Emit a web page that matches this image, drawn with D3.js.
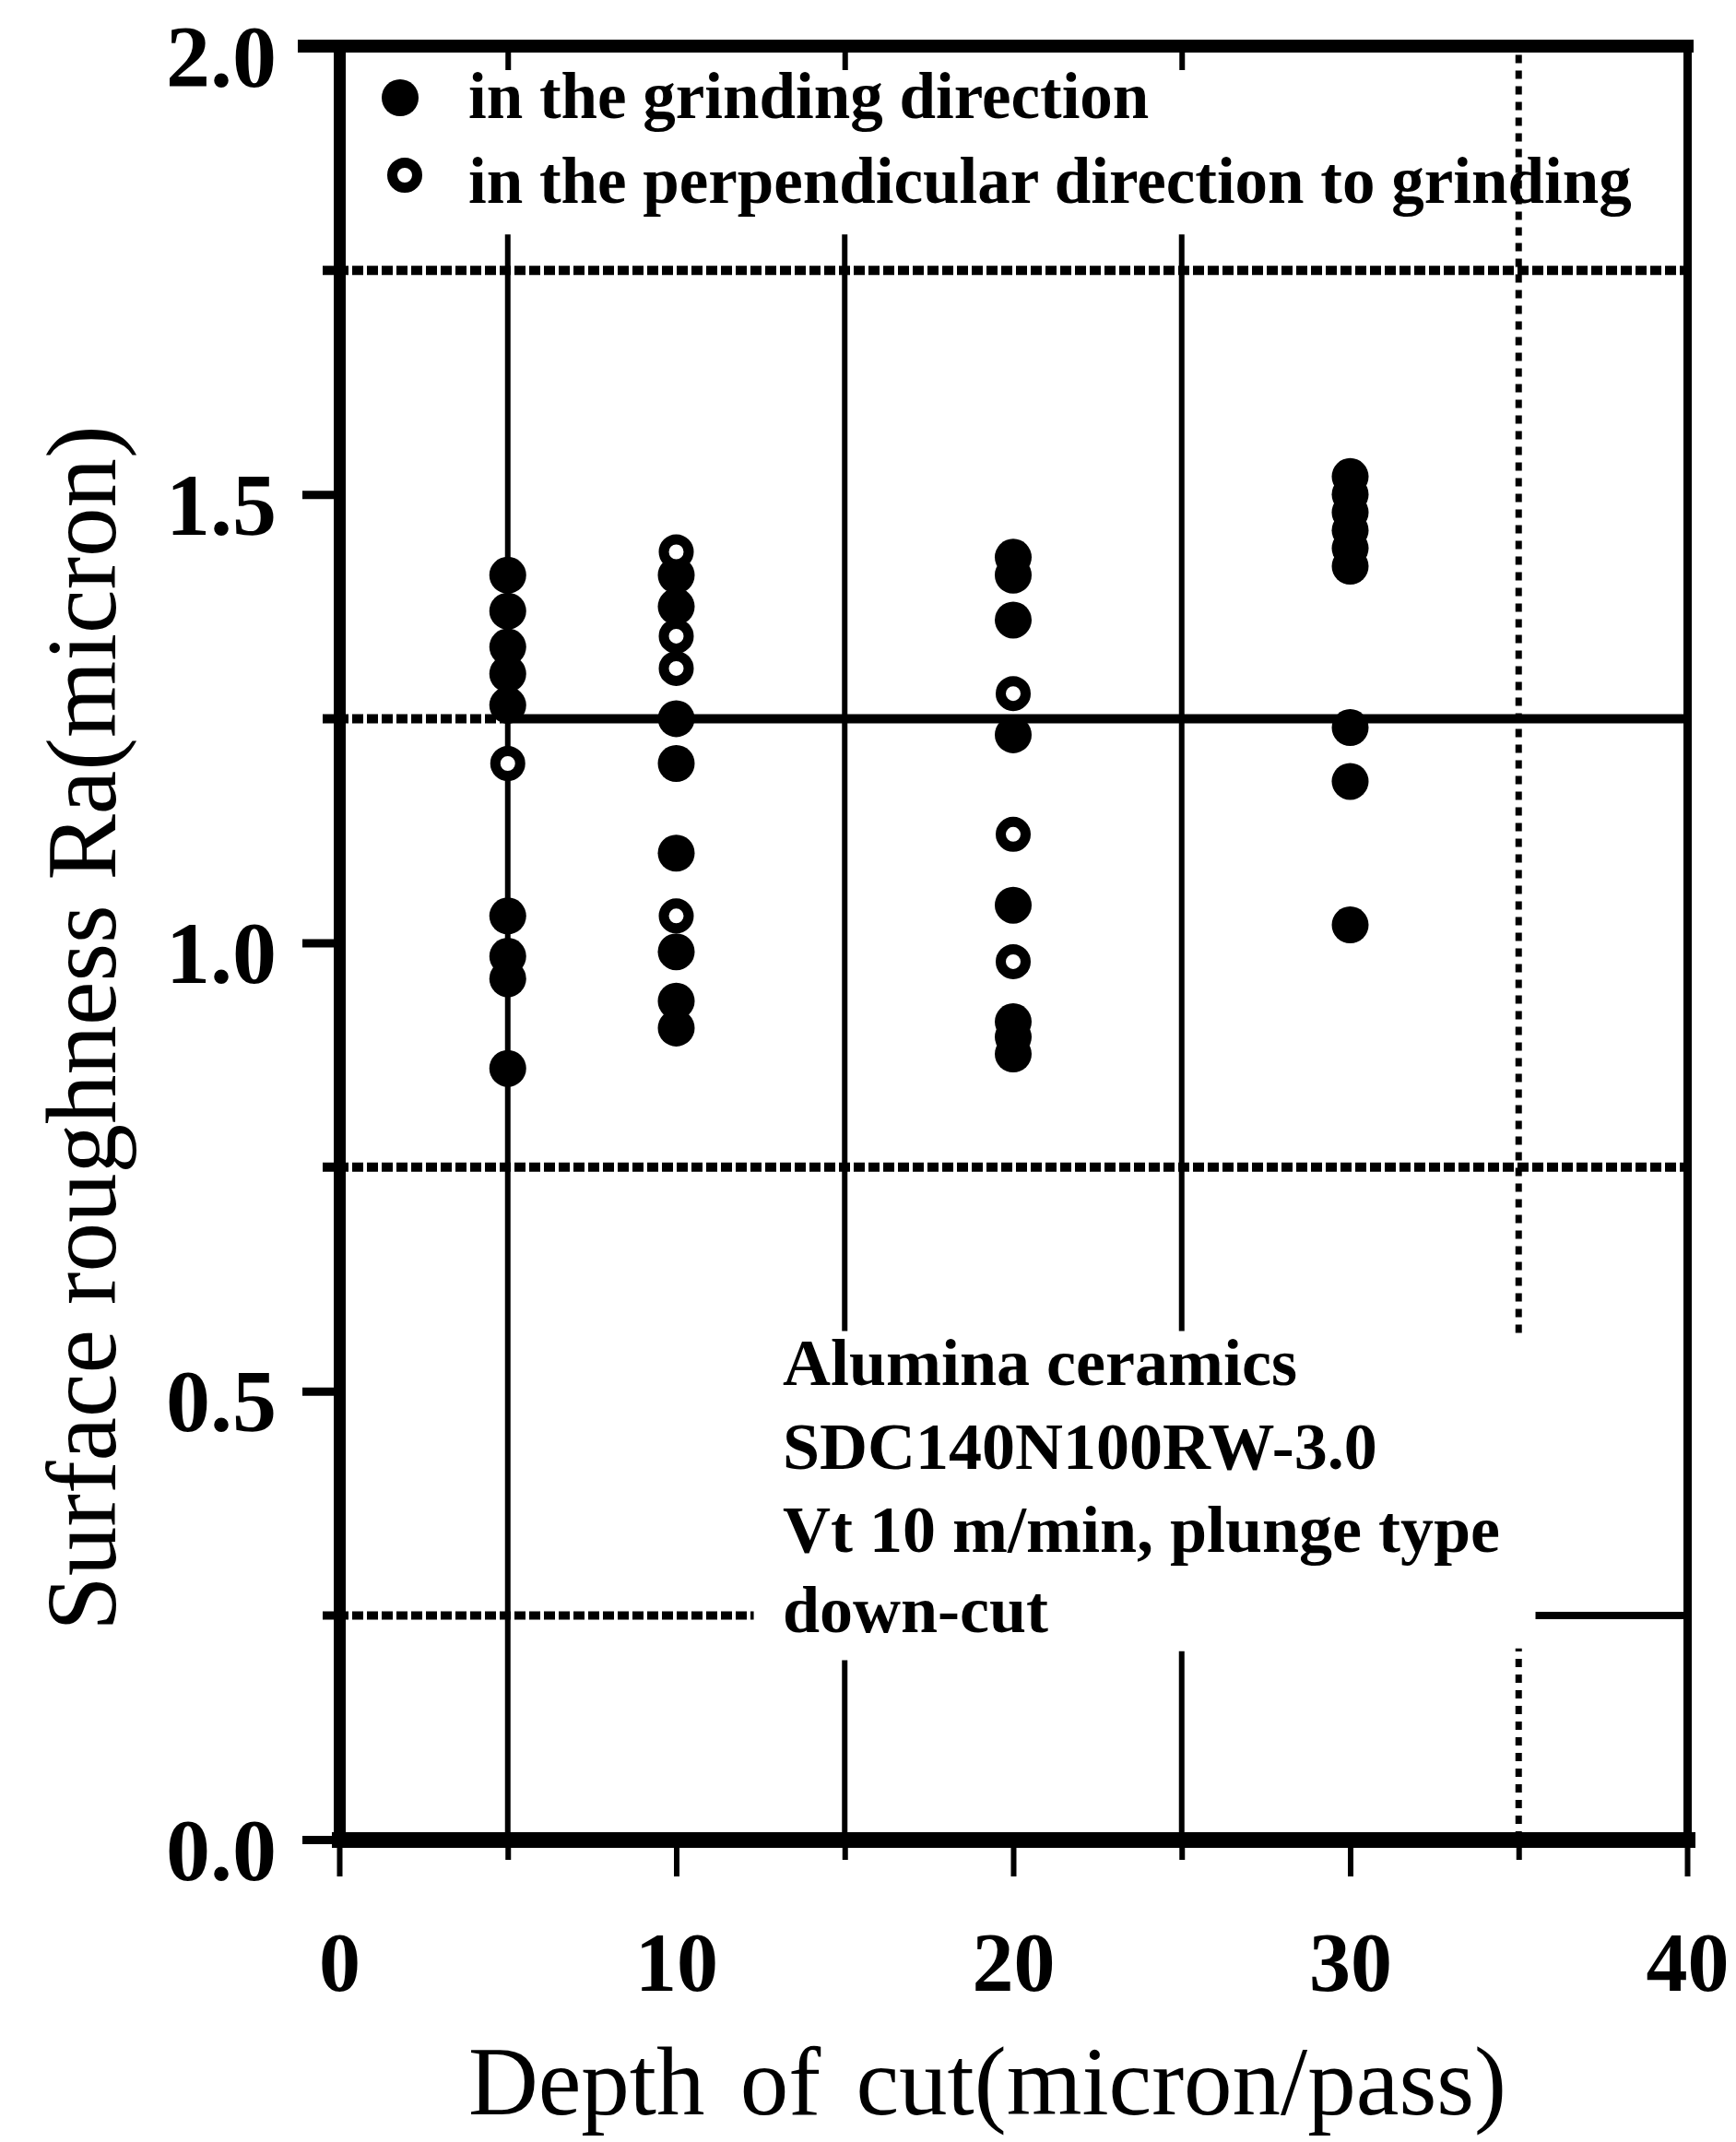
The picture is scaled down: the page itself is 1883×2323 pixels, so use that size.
<!DOCTYPE html>
<html lang="en">
<head>
<meta charset="UTF-8">
<title>Surface roughness vs depth of cut</title>
<script src="https://d3js.org/d3.v7.min.js"></script>
<style>
  body { margin: 0; background: #fff; }
  svg { display: block; }
</style>
</head>
<body>
<script>
const width = 1883
const height = 2323

// values (Ra in micron, one list per depth of cut)
const depths = [5, 10, 20, 30]
const raGrinding = [
  [1.41, 1.37, 1.33, 1.30, 1.265, 1.03, 0.985, 0.96, 0.86],
  [1.41, 1.375, 1.25, 1.20, 1.10, 0.99, 0.935, 0.905],
  [1.43, 1.41, 1.36, 1.232, 1.042, 0.912, 0.895, 0.876],
  [1.52, 1.50, 1.48, 1.46, 1.44, 1.42, 1.24, 1.18, 1.02]
]
const raPerpendicular = [
  [1.20],
  [1.436, 1.342, 1.306, 1.03],
  [1.278, 1.121, 0.979],
  []
]
const xTicks = [0, 10, 20, 30, 40]
const xMinorTicks = [5, 15, 25, 35]
const yTicks = [0, 0.5, 1.0, 1.5, 2.0]
const legendLabels = ["in the grinding direction", "in the perpendicular direction to grinding"]
const noteLines = ["Alumina ceramics", "SDC140N100RW-3.0", "Vt 10 m/min, plunge type", "down-cut"]

const serif = "'Liberation Serif', 'Times New Roman', Times, serif"

const x = d3.scaleLinear().domain([0, 40]).range([368, 1830])
const y = d3.scaleLinear().domain([0, 2]).range([1995, 50])

const svg = d3.select("body")
  .append("svg")
  .attr("width", width)
  .attr("height", height)

svg.append("rect").attr("width", width).attr("height", height).attr("fill", "#fff")

// grid lines (gaps left where the legend / note text sit)
const hGrid = [
  { v: 1.75, a: 0, b: 40, dash: "12,4", w: 10 },
  { v: 1.25, a: 0, b: 5, dash: "12,4", w: 10 },
  { v: 1.25, a: 5, b: 40, dash: null, w: 10 },
  { v: 0.75, a: 0, b: 40, dash: "12,4", w: 10 },
  { v: 0.25, a: 0, b: 12.3, dash: "12,4", w: 9 },
  { v: 0.25, a: 35.5, b: 40, dash: null, w: 8 }
]
const vGrid = [
  { v: 5, a: 0, b: 1.79, dash: null, w: 6 },
  { v: 15, a: 0.567, b: 1.79, dash: null, w: 6 },
  { v: 15, a: 0, b: 0.20, dash: null, w: 6 },
  { v: 25, a: 0.567, b: 1.79, dash: null, w: 6 },
  { v: 25, a: 0, b: 0.21, dash: null, w: 6 },
  { v: 35, a: 0.565, b: 2, dash: "9,8", w: 7 },
  { v: 35, a: 0, b: 0.213, dash: "9,8", w: 7 }
]

const grid = svg.append("g").attr("stroke", "#000")
grid.selectAll("line.h")
  .data(hGrid)
  .enter()
  .append("line")
  .attr("class", "h")
  .attr("x1", d => x(d.a) - (d.a === 0 ? 18 : 0))
  .attr("x2", d => x(d.b))
  .attr("y1", d => y(d.v))
  .attr("y2", d => y(d.v))
  .attr("stroke-width", d => d.w)
  .attr("stroke-dasharray", d => d.dash)

grid.selectAll("line.v")
  .data(vGrid)
  .enter()
  .append("line")
  .attr("class", "v")
  .attr("x1", d => x(d.v))
  .attr("x2", d => x(d.v))
  .attr("y1", d => y(d.a))
  .attr("y2", d => y(d.b))
  .attr("stroke-width", d => d.w)
  .attr("stroke-dasharray", d => d.dash)

// axes
function styleAxis(g, lineW, tickW) {
  g.select(".domain").attr("stroke-width", lineW).attr("stroke-linecap", "square")
  g.selectAll(".tick line").attr("stroke-width", tickW)
}

const yAxis = svg.append("g")
  .attr("transform", `translate(${x(0)},0)`)
  .call(d3.axisLeft(y).tickValues(yTicks).tickSize(40).tickSizeOuter(0).tickPadding(28)
    .tickFormat(d3.format(".1f")))
styleAxis(yAxis, 13, 9)
yAxis.selectAll("text")
  .attr("font-family", serif).attr("font-weight", "bold").attr("font-size", 96)
  .attr("fill", "#000").attr("dy", "0.45em")

const xAxis = svg.append("g")
  .attr("transform", `translate(0,${y(0)})`)
  .call(d3.axisBottom(x).tickValues(xTicks).tickSize(40).tickSizeOuter(0).tickPadding(60))
styleAxis(xAxis, 17, 6)
xAxis.selectAll("text")
  .attr("font-family", serif).attr("font-weight", "bold").attr("font-size", 90)
  .attr("fill", "#000")

svg.append("g")
  .attr("transform", `translate(0,${y(0)})`)
  .call(d3.axisBottom(x).tickValues(xMinorTicks).tickSize(22).tickSizeOuter(0).tickFormat(""))
  .call(g => g.select(".domain").remove())
  .selectAll(".tick line").attr("stroke-width", 6)

const topAxis = svg.append("g")
  .attr("transform", `translate(0,${y(2)})`)
  .call(d3.axisTop(x).tickValues([5, 15, 25]).tickSize(-26).tickSizeOuter(0).tickFormat(""))
styleAxis(topAxis, 14, 6)
topAxis.select(".domain").attr("d", `M${x(0) - 38},0H${x(40)}`)

const rightAxis = svg.append("g")
  .attr("transform", `translate(${x(40)},0)`)
  .call(d3.axisRight(y).tickValues([]).tickSizeOuter(0))
styleAxis(rightAxis, 9, 6)

// points
const grindingPts = depths.flatMap((d, i) => raGrinding[i].map(v => ({ x: d, y: v })))
const perpPts = depths.flatMap((d, i) => raPerpendicular[i].map(v => ({ x: d, y: v })))

svg.append("g")
  .selectAll("circle")
  .data(grindingPts)
  .enter()
  .append("circle")
  .attr("cx", d => x(d.x))
  .attr("cy", d => y(d.y))
  .attr("r", 20)
  .attr("fill", "#000")

svg.append("g")
  .selectAll("circle")
  .data(perpPts)
  .enter()
  .append("circle")
  .attr("cx", d => x(d.x))
  .attr("cy", d => y(d.y))
  .attr("r", 13.5)
  .attr("fill", "#fff")
  .attr("stroke", "#000")
  .attr("stroke-width", 11)

// legend
const legend = svg.append("g")
legend.append("circle").attr("cx", 434).attr("cy", 106).attr("r", 20).attr("fill", "#000")
legend.append("circle").attr("cx", 439).attr("cy", 190).attr("r", 13.5)
  .attr("fill", "#fff").attr("stroke", "#000").attr("stroke-width", 11)
legend.selectAll("text")
  .data(legendLabels)
  .enter()
  .append("text")
  .attr("x", 508)
  .attr("y", (d, i) => 128 + i * 92)
  .attr("font-family", serif)
  .attr("font-weight", "bold")
  .attr("font-size", 71)
  .text(d => d)

// note block
svg.append("g")
  .selectAll("text")
  .data(noteLines)
  .enter()
  .append("text")
  .attr("x", 849)
  .attr("y", (d, i) => [1502, 1593, 1683, 1770][i])
  .attr("font-family", serif)
  .attr("font-weight", "bold")
  .attr("font-size", 72)
  .text(d => d)

// axis titles
svg.append("text")
  .attr("x", 1071)
  .attr("y", 2293)
  .attr("text-anchor", "middle")
  .attr("font-family", serif)
  .attr("font-size", 105)
  .attr("word-spacing", 12)
  .text("Depth of cut(micron/pass)")

svg.append("text")
  .attr("transform", "translate(125,1115) rotate(-90)")
  .attr("text-anchor", "middle")
  .attr("font-family", serif)
  .attr("font-size", 107)
  .text("Surface roughness Ra(micron)")
</script>
</body>
</html>
